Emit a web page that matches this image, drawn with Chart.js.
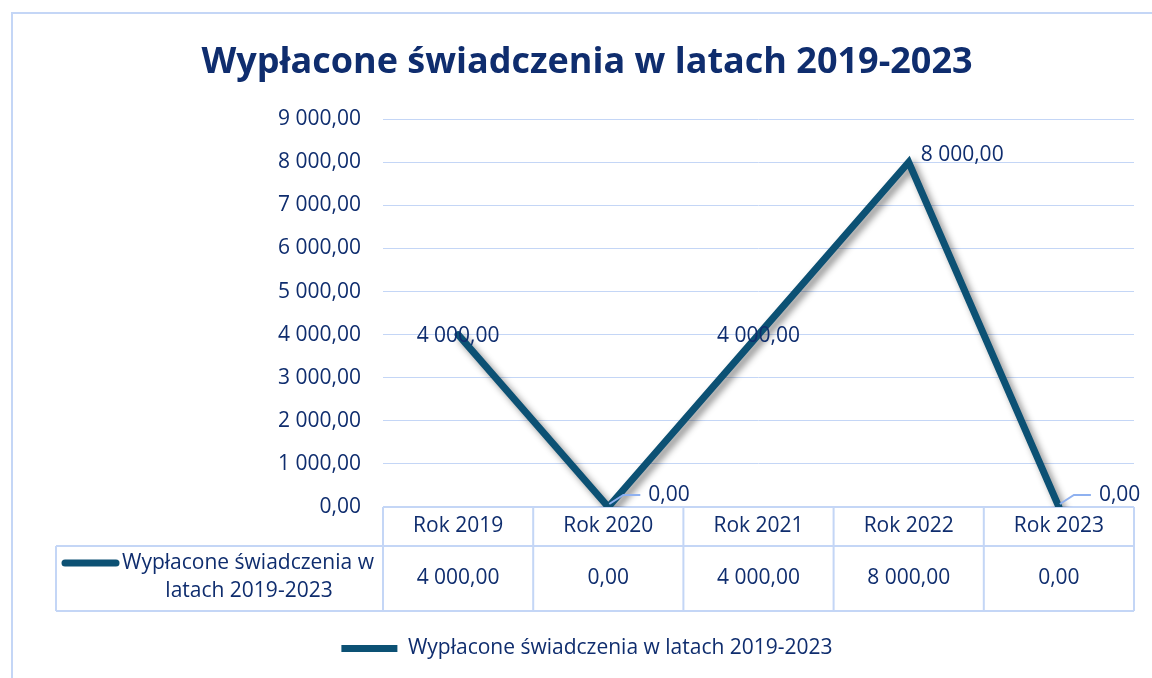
<!DOCTYPE html>
<html>
<head>
<meta charset="utf-8">
<script src="https://cdn.jsdelivr.net/npm/chart.js@4"></script>
<style>
  html, body { margin: 0; padding: 0; background: #fff; }
  #wrap { width: 1152px; height: 678px; }
</style>
</head>
<body>
<div id="wrap"><canvas id="chart" width="1152" height="678"></canvas></div>
<script>
'use strict'
const categories = ['Rok 2019', 'Rok 2020', 'Rok 2021', 'Rok 2022', 'Rok 2023'];
const seriesName = 'Wypłacone świadczenia w latach 2019-2023';
const payouts = [4000, 0, 4000, 8000, 0];
const yTicks = [0, 1000, 2000, 3000, 4000, 5000, 6000, 7000, 8000, 9000];

const navy = '#0f2d6e';
const lineColor = '#0c5174';
const paleBlue = '#c4d6f6';
const font = 'Open Sans';
const textSize = 21;

function fmt(v) {
  const parts = v.toFixed(2).split('.');
  return parts[0].replace(/\B(?=(\d{3})+(?!\d))/g, ' ') + ',' + parts[1];
}

// frame round the whole chart
const framePlugin = {
  id: 'frame',
  beforeDraw(chart) {
    const ctx = chart.ctx;
    ctx.save();
    ctx.fillStyle = '#fff';
    ctx.fillRect(0, 0, chart.width, chart.height);
    ctx.strokeStyle = paleBlue;
    ctx.lineWidth = 2;
    ctx.strokeRect(12, 13, chart.width + 20, chart.height + 20);
    ctx.restore();
  }
};

// data table under the plot, columns follow the x scale
const tablePlugin = {
  id: 'dataTable',
  beforeDatasetsDraw(chart) {
    const ctx = chart.ctx;
    const x = chart.scales.x;
    const area = chart.chartArea;
    const top = area.bottom;
    const mid = top + 39;
    const bottom = top + 104;
    const cellLeft = 56;
    const half = (x.getPixelForValue(1) - x.getPixelForValue(0)) / 2;
    ctx.save();
    ctx.strokeStyle = paleBlue;
    ctx.lineWidth = 2;
    ctx.beginPath();
    ctx.moveTo(area.left, top); ctx.lineTo(area.right, top);
    ctx.moveTo(cellLeft, mid); ctx.lineTo(area.right, mid);
    ctx.moveTo(cellLeft, bottom); ctx.lineTo(area.right, bottom);
    ctx.moveTo(cellLeft, mid); ctx.lineTo(cellLeft, bottom);
    ctx.moveTo(area.left, top); ctx.lineTo(area.left, bottom);
    categories.forEach((c, i) => {
      const xr = x.getPixelForValue(i) + half;
      ctx.moveTo(xr, top); ctx.lineTo(xr, bottom);
    });
    ctx.stroke();

    ctx.fillStyle = navy;
    ctx.font = textSize + 'px "' + font + '"';
    ctx.textAlign = 'center';
    ctx.textBaseline = 'middle';
    const rowY = (mid + bottom) / 2;
    payouts.forEach((v, i) => {
      ctx.fillText(fmt(v), x.getPixelForValue(i), rowY);
    });

    // series key in the first cell
    ctx.strokeStyle = lineColor;
    ctx.lineWidth = 7;
    ctx.lineCap = 'round';
    ctx.beginPath();
    ctx.moveTo(65, mid + 17); ctx.lineTo(116, mid + 17);
    ctx.stroke();
    const words = seriesName.split(' ');
    ctx.textAlign = 'left';
    ctx.fillText(words.slice(0, 3).join(' '), 122, mid + 17);
    ctx.textAlign = 'center';
    ctx.fillText(words.slice(3).join(' '), 249, mid + 45);
    ctx.restore();
  }
};

// drop shadow under the line
const shadowPlugin = {
  id: 'lineShadow',
  beforeDatasetDraw(chart) {
    const ctx = chart.ctx;
    ctx.save();
    ctx.shadowColor = 'rgba(0,0,0,0.45)';
    ctx.shadowBlur = 7;
    ctx.shadowOffsetX = 4;
    ctx.shadowOffsetY = 4;
  },
  afterDatasetDraw(chart) {
    chart.ctx.restore();
  }
};

// value labels next to the points
const labelPlugin = {
  id: 'valueLabels',
  afterDatasetsDraw(chart) {
    const ctx = chart.ctx;
    const meta = chart.getDatasetMeta(0);
    const max = Math.max(...payouts);
    ctx.save();
    ctx.font = textSize + 'px "' + font + '"';
    ctx.fillStyle = navy;
    ctx.textBaseline = 'middle';
    meta.data.forEach((pt, i) => {
      const v = payouts[i];
      const text = fmt(v);
      if (v === 0) {
        ctx.strokeStyle = '#8fb1f0';
        ctx.lineWidth = 2;
        ctx.beginPath();
        ctx.moveTo(pt.x + 1, pt.y - 3);
        ctx.lineTo(pt.x + 15, pt.y - 12);
        ctx.lineTo(pt.x + 32, pt.y - 12);
        ctx.stroke();
        ctx.textAlign = 'left';
        ctx.fillText(text, pt.x + 40, pt.y - 12);
      } else if (v === max) {
        ctx.textAlign = 'left';
        ctx.fillText(text, pt.x + 12, pt.y - 7);
      } else {
        ctx.textAlign = 'center';
        ctx.fillText(text, pt.x, pt.y + 1);
      }
    });
    ctx.restore();
  }
};

const ctx = document.getElementById('chart').getContext('2d');

const data = {
  labels: categories,
  datasets: [{
    label: seriesName,
    data: payouts,
    borderColor: lineColor,
    backgroundColor: lineColor,
    borderWidth: 7,
    borderCapStyle: 'round',
    borderJoinStyle: 'miter',
    pointRadius: 0,
    pointStyle: 'line',
    tension: 0,
  }],
};

const options = {
  responsive: false,
  animation: false,
  layout: { padding: { top: 0, right: 18, bottom: 9, left: 40 } },
  plugins: {
    title: {
      display: true,
      text: seriesName,
      color: navy,
      font: { family: font, size: 36, weight: 'bold' },
      padding: { top: 41, bottom: 35 },
    },
    legend: {
      position: 'bottom',
      labels: {
        usePointStyle: true,
        pointStyleWidth: 56,
        boxHeight: 8,
        color: navy,
        font: { family: font, size: textSize },
        padding: 15,
      },
    },
    tooltip: { enabled: false },
  },
  scales: {
    x: {
      offset: true,
      grid: { display: false, drawTicks: false, offset: true },
      border: { display: false },
      ticks: {
        color: navy,
        font: { family: font, size: textSize },
        padding: 6,
        maxRotation: 0,
      },
      afterFit(scale) { scale.height = 116; },
    },
    y: {
      min: 0,
      max: 9000,
      afterBuildTicks(scale) { scale.ticks = yTicks.map(v => ({ value: v })); },
      grid: { color: paleBlue, lineWidth: 1, drawTicks: false },
      border: { display: false },
      ticks: {
        color: navy,
        font: { family: font, size: textSize },
        padding: 22,
        callback: v => fmt(v),
      },
      afterFit(scale) { scale.width = 343; },
    },
  },
};

new Chart(ctx, {
  type: 'line',
  data: data,
  options: options,
  plugins: [framePlugin, tablePlugin, shadowPlugin, labelPlugin],
});
</script>
</body>
</html>
